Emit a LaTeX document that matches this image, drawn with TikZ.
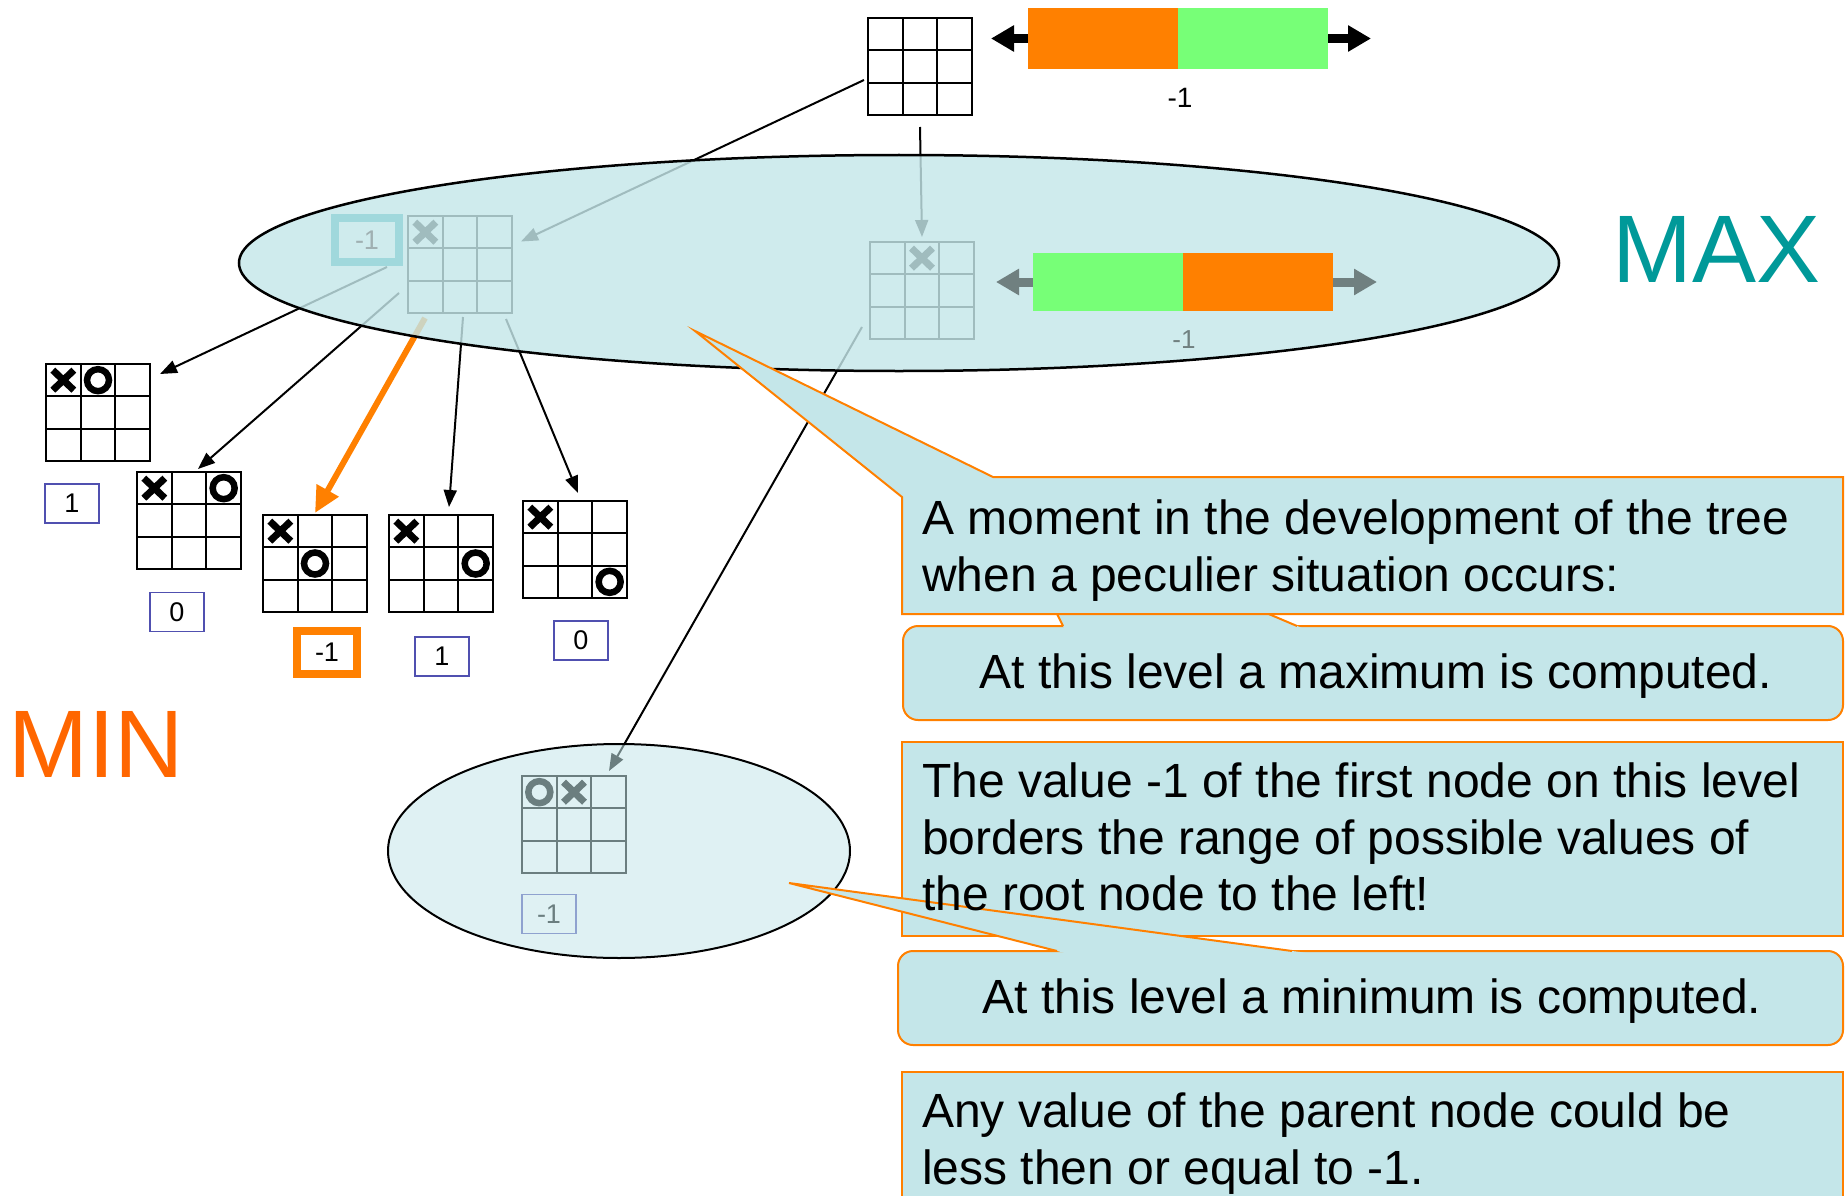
\documentclass[tikz,border=0pt]{standalone}
\usepackage{fontspec}
\setmainfont{Liberation Sans}
\usetikzlibrary{arrows.meta,calc,positioning}
\definecolor{CallFill}{RGB}{196,230,233}
\definecolor{CallLine}{RGB}{255,128,0}
\definecolor{BarOrange}{RGB}{255,128,0}
\definecolor{BarGreen}{RGB}{119,255,119}
\definecolor{ValBlue}{RGB}{80,80,176}
\definecolor{MaxTeal}{RGB}{0,153,153}
\definecolor{MinOrange}{RGB}{255,102,0}
\definecolor{ArrowGrey}{RGB}{112,128,128}
\definecolor{ValGrey}{RGB}{160,176,178}
\definecolor{HiCyan}{RGB}{160,216,220}

\tikzset{
  board/.style={draw, line width=2pt, minimum width=104pt, minimum height=97pt,
    inner sep=0pt, outer sep=0pt, anchor=north west},
  xmark/.style={line width=7pt},
  omark/.style={line width=6.5pt},
  edge/.style={line width=2pt, -{Triangle[length=17pt,width=13pt]}},
  val/.style={draw=ValBlue, line width=1.6pt, minimum width=54pt, minimum height=39pt,
    inner sep=0pt, font=\fontsize{27}{27}\selectfont},
  bar/.style={minimum width=150pt, inner sep=0pt, outer sep=0pt},
  halfarrow/.style={line width=9pt, -{Triangle[length=23pt,width=25pt]}},
  callout/.style={fill=CallFill, draw=CallLine, line width=2pt},
  calltext/.style={font=\fontsize{48}{56.5}\selectfont, inner sep=0pt, align=left},
  levellabel/.style={font=\fontsize{96}{96}\selectfont, inner sep=0pt}
}

% grid of a board node
\newcommand{\gridlines}[1]{%
  \foreach \k in {1,2} {%
    \draw[line width=2pt] ($(#1.north west)!\k/3!(#1.north east)$) -- ($(#1.south west)!\k/3!(#1.south east)$);
    \draw[line width=2pt] ($(#1.north west)!\k/3!(#1.south west)$) -- ($(#1.north east)!\k/3!(#1.south east)$);
  }}
% marks: board, column, row
\newcommand{\putX}[3]{\draw[xmark] ($(#1.north west)+({(#2+0.5)*104/3},{(#3+0.5)*97/3})$)
  +(-10.5,-10) -- +(10.5,10) +(-10.5,10) -- +(10.5,-10);}
\newcommand{\putO}[3]{\draw[omark] ($(#1.north west)+({(#2+0.5)*104/3},{(#3+0.5)*97/3})$)
  circle[radius=11pt];}

\begin{document}
\begin{tikzpicture}[x=1pt,y=-1pt]
  \useasboundingbox (0,0) rectangle (1845,1196);
  \clip (0,0) rectangle (1845,1196);

  % boards
  \node[board] (root) at (868,18) {};
  \node[board] (gl) at (408,216) {};
  \node[board] (gm) at (870,242) {};
  \node[board] (c1) at (46,364) {};
  \node[board] (c2) at (137,472) {};
  \node[board] (c3) at (263,515) {};
  \node[board] (c4) at (389,515) {};
  \node[board] (c5) at (523,501) {};
  \node[board] (bt) at (522,776) {};
  \foreach \b in {root,gl,gm,c1,c2,c3,c4,c5,bt} {\gridlines{\b}}

  \putX{gl}{0}{0}
  \putX{gm}{1}{0}
  \putX{c1}{0}{0} \putO{c1}{1}{0}
  \putX{c2}{0}{0} \putO{c2}{2}{0}
  \putX{c3}{0}{0} \putO{c3}{1}{1}
  \putX{c4}{0}{0} \putO{c4}{2}{1}
  \putX{c5}{0}{0} \putO{c5}{2}{2}
  \putO{bt}{0}{0} \putX{bt}{1}{0}

  % values of the MIN nodes
  \node[val] (v1) at (72,503.5) {1};
  \node[val] (v2) at (177,612) {0};
  \node[val, draw=BarOrange, line width=8pt, minimum width=60pt, minimum height=43pt] (v3) at (327,652.5) {-1};
  \node[val] (v4) at (442,656.5) {1};
  \node[val] (v5) at (581,640.5) {0};
  \node[val] (vbt) at (549,914) {-1};

  % connectors
  \coordinate (ra) at (864,80);
  \coordinate (g1) at (387,267);
  \coordinate (g2) at (399,293);
  \coordinate (g3) at (425,318);
  \coordinate (g4) at (463,317);
  \coordinate (g5) at (506,319);
  \coordinate (ma) at (862,327);
  \draw[edge] (ra) -- ([xshift=9pt,yshift=23pt]gl.east);
  \draw[edge] ([yshift=-12pt]root.south) -- ([yshift=5pt]gm.north);
  \draw[edge] (g1) -- ([xshift=10pt,yshift=-10pt]c1.north east);
  \draw[edge] (g2) -- ([xshift=9pt,yshift=3pt]c2.north);
  \draw[line width=6pt, BarOrange, -{Triangle[length=26pt,width=24pt]}] (g3) -- ([yshift=2pt]c3.north);
  \draw[edge] (g4) -- ([xshift=8pt,yshift=8pt]c4.north);
  \draw[edge] (g5) -- ([xshift=3pt,yshift=8pt]c5.north);
  \draw[edge] (ma) -- ([xshift=-17pt,yshift=5pt]bt.north east);

  % levels
  \draw[line width=2.5pt, fill=CallFill, fill opacity=0.82] (899,263) ellipse [x radius=660pt, y radius=108pt];
  \draw[line width=2pt, fill=CallFill, fill opacity=0.55] (619,851) ellipse [x radius=231pt, y radius=107pt];

  \node[val, draw=HiCyan, line width=8pt, minimum width=64pt, minimum height=44pt, text=ValGrey] (vgl) at (367,240) {-1};

  % ranges
  \node[bar, fill=BarOrange, minimum height=61pt, anchor=north west] (tor) at (1028,8) {};
  \node[bar, fill=BarGreen, minimum height=61pt, right=0pt of tor] (tgr) {};
  \draw[halfarrow] (tor.west) -- ++(-37,0);
  \draw[halfarrow] (tgr.east) -- ++(43,0);
  \node[font=\fontsize{28}{28}\selectfont, anchor=base] (tval) at (1180,108) {-1};

  \node[bar, fill=BarGreen, minimum height=58pt, anchor=north west] (mgr) at (1033,253) {};
  \node[bar, fill=BarOrange, minimum height=58pt, right=0pt of mgr] (mor) {};
  \draw[halfarrow, ArrowGrey] (mgr.west) -- ++(-37,0);
  \draw[halfarrow, ArrowGrey] (mor.east) -- ++(44,0);
  \node[font=\fontsize{26}{26}\selectfont, anchor=base, text=ArrowGrey] (mval) at (1184,348) {-1};

  % callouts
  \draw[callout, rounded corners=15pt] (903,626) rectangle (1843,720);
  \fill[CallFill] (1000,500) -- (1064,628) -- (1302,628) -- cycle;
  \draw[CallLine, line width=2pt] (1063,626) -- (1000,500) -- (1297,626);
  \draw[callout] (902,497) -- (695,331) -- (993,477) -- (1843,477) |- (902,614) -- cycle;
  \draw[callout] (902,742) rectangle (1843,936);
  \draw[callout, rounded corners=15pt] (898,951) rectangle (1843,1045);
  \fill[CallFill] (789,883) -- (1065,953) -- (1307,953) -- cycle;
  \draw[CallLine, line width=2pt] (1057,951) -- (789,883) -- (1292,951);
  \draw[callout] (902,1072) rectangle (1843,1220);

  \node[calltext, anchor=north west] (t1) at (922,500) {A moment in the development of the tree\\when a peculier situation occurs:};
  \node[calltext, anchor=base] (t2) at (1376,688) {At this level a maximum is computed.};
  \node[calltext, anchor=north west] (t3) at (922,763) {The value -1 of the first node on this level\\borders the range of possible values of\\the root node to the left!};
  \node[calltext, anchor=base] (t4) at (1372,1013) {At this level a minimum is computed.};
  \node[calltext, anchor=north west] (t5) at (922,1093) {Any value of the parent node could be\\less then or equal to -1.};

  \node[levellabel, text=MaxTeal, anchor=base west] (maxlbl) at (1612,282) {MAX};
  \node[levellabel, text=MinOrange, anchor=base west] (minlbl) at (8,777) {MIN};
\end{tikzpicture}
\end{document}
